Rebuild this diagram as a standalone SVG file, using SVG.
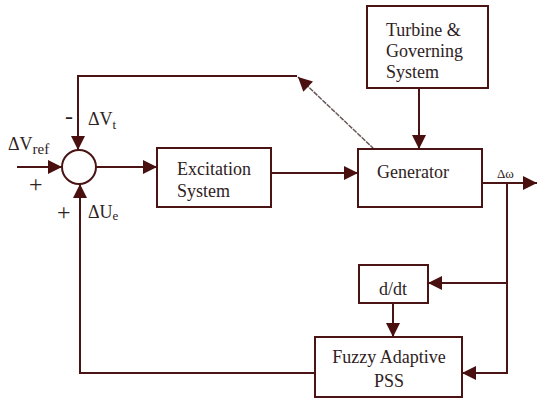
<svg xmlns="http://www.w3.org/2000/svg" width="538" height="401" viewBox="0 0 538 401">
<style>
.box{fill:#fff;stroke:#4a1414;stroke-width:2}
.ln{fill:none;stroke:#4a1414;stroke-width:2}
.t{font-family:"Liberation Serif","Times New Roman",serif;font-size:18px;fill:#2e2222}
.s{font-family:"Liberation Serif","Times New Roman",serif;font-size:13px;fill:#2e2222}
.pm{font-family:"Liberation Serif","Times New Roman",serif;font-size:24px;fill:#2e2222}
</style>
<defs>
<marker id="ar" viewBox="0 0 10 10" refX="10" refY="5" markerWidth="15" markerHeight="14" markerUnits="userSpaceOnUse" orient="auto">
<path d="M0,0 L10,5 L0,10 z" fill="#4a0f0f"/>
</marker>
</defs>
<rect width="538" height="401" fill="#fff"/>
<g id="connectors">
<path class="ln" d="M297,76 H78 V150" marker-end="url(#ar)"/>
<path d="M374,149 L298,77" fill="none" stroke="#6a5858" stroke-width="1.5" stroke-dasharray="5,1" marker-end="url(#ar)"/>
<path class="ln" d="M17,167 H62" marker-end="url(#ar)"/>
<path class="ln" d="M96,167 H157" marker-end="url(#ar)"/>
<path class="ln" d="M271,173 H358" marker-end="url(#ar)"/>
<path class="ln" d="M419,88 V149" marker-end="url(#ar)"/>
<path class="ln" d="M482,183 H537" marker-end="url(#ar)"/>
<path class="ln" d="M507,183 V373 H462" marker-end="url(#ar)"/>
<path class="ln" d="M507,283 H428" marker-end="url(#ar)"/>
<path class="ln" d="M393,303 V337" marker-end="url(#ar)"/>
<path class="ln" d="M315,373 H80 V184" marker-end="url(#ar)"/>
</g>
<g id="sum">
<circle cx="79" cy="167" r="17" class="box"/>
<text class="pm" x="65" y="124">-</text>
<text class="t" x="88" y="125">ΔV<tspan class="s" dy="4">t</tspan></text>
<text class="t" x="8" y="150">ΔV<tspan dy="4" font-size="15">ref</tspan></text>
<text class="pm" x="29" y="192">+</text>
<text class="pm" x="57" y="220">+</text>
<text class="t" x="88" y="218">ΔU<tspan class="s" dy="2">e</tspan></text>
</g>
<g id="excitation">
<rect class="box" x="157" y="148" width="114" height="59"/>
<text class="t" x="177" y="175">Excitation</text>
<text class="t" x="177" y="197">System</text>
</g>
<g id="turbine">
<rect class="box" x="367" y="6" width="121" height="82"/>
<text class="t" x="386" y="36">Turbine &amp;</text>
<text class="t" x="386" y="57">Governing</text>
<text class="t" x="386" y="78">System</text>
</g>
<g id="generator">
<rect class="box" x="358" y="149" width="124" height="58"/>
<text class="t" x="413" y="178" text-anchor="middle">Generator</text>
<text class="s" x="497" y="178">Δω</text>
</g>
<g id="ddt">
<rect class="box" x="359" y="265" width="69" height="38"/>
<text class="t" x="393" y="295" text-anchor="middle">d/dt</text>
</g>
<g id="fuzzy">
<rect class="box" x="315" y="337" width="147" height="60"/>
<text class="t" x="389" y="363" text-anchor="middle">Fuzzy Adaptive</text>
<text class="t" x="389" y="387" text-anchor="middle">PSS</text>
</g>
</svg>
